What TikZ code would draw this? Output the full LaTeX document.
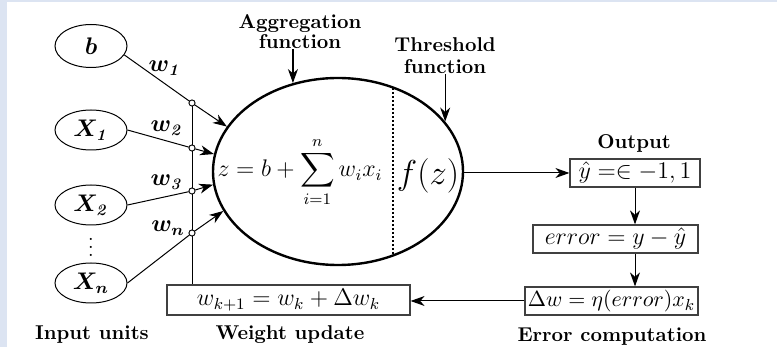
\documentclass[tikz,border=0pt]{standalone}
\usepackage{amsmath}
\usetikzlibrary{shapes.geometric,arrows.meta,calc}
\definecolor{strip}{RGB}{220,228,242}
\begin{document}
\begin{tikzpicture}[x=0.5pt,y=-0.5pt,
  inunit/.style={ellipse,draw,line width=0.5pt,minimum width=36pt,minimum height=20pt,inner sep=0pt,font=\large},
  tip/.style={-{Stealth[length=7pt,width=5pt,inset=2.2pt]}},
  fbox/.style={rectangle,draw=black!75,line width=0.6pt,minimum height=14pt,inner sep=1pt,font=\large},
  lab/.style={font=\bfseries,align=center,inner sep=0pt},
  wlab/.style={inner sep=0pt,font=\large},
  knot/.style={circle,draw,fill=white,line width=0.4pt,minimum size=3pt,inner sep=0pt},
  conn/.style={line width=0.5pt},
]
\useasboundingbox (0,0) rectangle (777,347);
\fill[white] (0,0) rectangle (777,347);
\fill[strip] (0,0) rectangle (7,347);
\fill[strip] (0,0) rectangle (777,2);

% input units
\node[inunit, minimum height=21.5pt] (b) at (91,46) {$\boldsymbol{b}$};
\node[inunit] (x1) at (91,130) {$\boldsymbol{X_{\mathit{1}}}$};
\node[inunit] (x2) at (91,205) {$\boldsymbol{X_{\mathit{2}}}$};
\node[inunit] (xn) at (91,283) {$\boldsymbol{X_{n}}$};
\node[inner sep=0pt] (dots) at (91,241) {$\vdots$};

% main neuron
\node[ellipse,draw,line width=1.2pt,minimum width=125pt,minimum height=93.5pt,inner sep=0pt] (agg) at (338,171.5) {};
\coordinate (dt) at (393,88);
\coordinate (db) at (393,255);
\draw[densely dotted, line width=1pt] (dt) -- (db);
\node[font=\large,inner sep=0pt] (sum) at (300,172) {$z = b + \displaystyle\sum_{i=1}^{n} w_i x_i$};
\node[font=\LARGE,inner sep=0pt] (fz) at (428,176) {$f(z)$};

% top labels
\node[lab] (aggl) at (300,32) {Aggregation\\[-2pt]function};
\node[lab] (thrl) at (445,56) {Threshold\\[-1pt]function};
\draw[tip, line width=0.6pt] (agg.117 |- aggl.south) -- (agg.117);
\draw[tip, line width=0.6pt] (agg.25 |- thrl.south) -- (agg.25);

% weight knots
\node[knot] (c1) at (192,103) {};
\node[knot] (c2) at (192,148) {};
\node[knot] (c3) at (192,191) {};
\node[knot] (c4) at (192,233) {};

% boxes
\node[fbox, minimum width=65pt] (out) at (635,173) {$\hat{y} =\in -1, 1$};
\node[lab] (outl) at (634,143) {Output};
\node[fbox, minimum width=82.5pt] (err) at (615.5,239) {$error = y - \hat{y}$};
\node[fbox, minimum width=86.5pt, font=\fontsize{11}{13}\selectfont] (dw) at (611.5,301) {$\Delta w= \eta(error)x_k$};
\node[fbox, minimum width=121.5pt, minimum height=15pt] (wu) at (288.5,300) {$w_{k+1} = w_k + \Delta w_k$};

% vertical bus
\draw[conn] (c1) -- (c1 |- wu.north);
\node[knot] at (c1) {};
\node[knot] at (c2) {};
\node[knot] at (c3) {};
\node[knot] at (c4) {};

% input connectors
\draw[conn] (b.-15) -- (c1);
\draw[conn, tip] (c1) -- (agg.158);
\draw[conn] (x1.east) -- (c2);
\draw[conn, tip] (c2) -- (agg.172);
\draw[conn] (x2.east) -- (c3);
\draw[conn, tip] (c3) -- (agg.186);
\draw[conn] (xn.east) -- (c4);
\draw[conn, tip] (c4) -- (agg.199);

% weight labels
\node[wlab] (w1) at (165,68) {$\boldsymbol{w_{\mathit{1}}}$};
\node[wlab] (w2) at (167,128) {$\boldsymbol{w_{\mathit{2}}}$};
\node[wlab] (w3) at (167,182) {$\boldsymbol{w_{\mathit{3}}}$};
\node[wlab] (wn) at (168,228) {$\boldsymbol{w_{n}}$};

% flow
\draw[conn, tip] (out.west -| agg.east) -- (out.west);
\draw[conn, tip] (out.south) -- (out.south |- err.north);
\draw[conn, tip] (out.south |- err.south) -- (out.south |- dw.north);
\draw[conn, tip] (dw.west) -- (dw.west -| wu.east);

% bottom labels
\node[lab] (inl) at (92,335) {Input units};
\node[lab] (wul) at (290,335) {Weight update};
\node[lab] (ecl) at (612,337) {Error computation};
\end{tikzpicture}
\end{document}
